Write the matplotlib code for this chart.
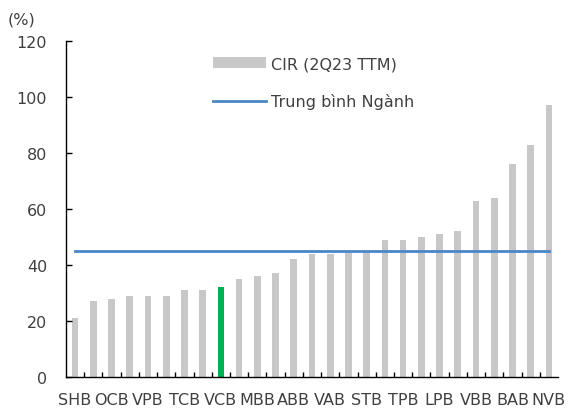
import matplotlib
matplotlib.use("Agg")
import matplotlib.pyplot as plt
import numpy as np

BANKS = ["SHB", "", "OCB", "", "VPB", "", "TCB", "", "VCB", "", "MBB", "", "ABB", "",
         "VAB", "", "STB", "", "TPB", "", "LPB", "", "VBB", "", "BAB", "", "NVB"]
CIR = [21, 27, 28, 29, 29, 29, 31, 31, 32, 35, 36, 37, 42, 44,
       44, 45, 45, 49, 49, 50, 51, 52, 63, 64, 76, 83, 97]
INDUSTRY_AVG = 45
HIGHLIGHT = "VCB"

GREY = "#c8c8c8"
GREEN = "#00b050"
BLUE = "#4a86c8"
TXT = "#404040"

plt.rcParams["font.family"] = ["DejaVu Sans"]
plt.rcParams["font.size"] = 11.5

fig = plt.figure(figsize=(5.68, 4.14), dpi=100)
ax = fig.add_axes([66 / 568, 36 / 414, 492 / 568, 336 / 414])

x = np.arange(len(CIR))
colors = [GREEN if b == HIGHLIGHT else GREY for b in BANKS]
bars = ax.bar(x, CIR, width=0.37, color=colors, label="CIR (2Q23 TTM)")
line, = ax.plot([x[0], x[-1]], [INDUSTRY_AVG, INDUSTRY_AVG], color=BLUE, lw=2,
                label="Trung bình Ngành")

ax.set_xlim(-0.5, len(CIR) - 0.5)
ax.set_ylim(0, 120)
ax.set_yticks(range(0, 121, 20))
ax.set_xticks(x)
ax.set_xticklabels(BANKS)
ax.set_xticks(x[:-1] + 0.5, minor=True)
ax.tick_params(axis="x", which="major", length=0, pad=11, colors=TXT)
ax.tick_params(axis="x", which="minor", direction="in", length=3.5, width=1, color="black")
ax.tick_params(axis="y", direction="in", length=4, width=1, pad=13.5, colors=TXT)
ax.tick_params(axis="y", color="black")

for s in ["top", "right"]:
    ax.spines[s].set_visible(False)
for s in ["left", "bottom"]:
    ax.spines[s].set_linewidth(1)

fig.text(8 / 568, 1 - 20 / 414, "(%)", color=TXT, va="center", ha="left")

# grey legend patch (first bar is grey)
leg = ax.legend([bars[0], line], ["CIR (2Q23 TTM)", "Trung bình Ngành"],
                loc="upper left", bbox_to_anchor=(0.299, 0.955), frameon=False,
                borderpad=0, borderaxespad=0, handlelength=3.3, handleheight=0.65,
                handletextpad=0.3, labelspacing=1.4)
for t in leg.get_texts():
    t.set_color(TXT)

fig.savefig("out.png", dpi=100)
